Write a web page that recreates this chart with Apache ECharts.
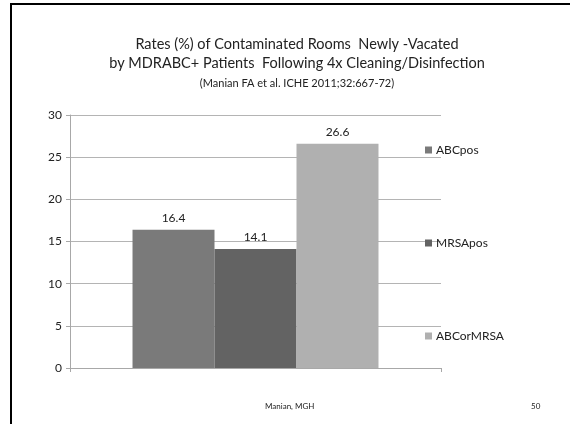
<!DOCTYPE html>
<html>
<head>
<meta charset="utf-8">
<script src="https://cdn.jsdelivr.net/npm/echarts@6/dist/echarts.min.js"></script>
<style>
  html, body { margin: 0; padding: 0; background: #fff; }
  #chart { width: 570px; height: 424px; }
</style>
</head>
<body>
<div id="chart"></div>
<script>
// Contamination rates after repeated cleaning, by organism group
const categories = ['Rooms'];
const seriesNames = ['ABCpos', 'MRSApos', 'ABCorMRSA'];
const seriesValues = [16.4, 14.1, 26.6];
const seriesColors = ['#7a7a7a', '#636363', '#b0b0b0'];
const yTicks = [0, 5, 10, 15, 20, 25, 30];

const FONT = 'Lato, "Open Sans", sans-serif';

const chart = echarts.init(document.getElementById('chart'), null, { renderer: 'canvas' });

const series = seriesNames.map((name, i) => ({
  name: name,
  type: 'bar',
  data: [seriesValues[i]],
  barGap: '0%',
  barCategoryGap: '33.7%',
  itemStyle: { color: seriesColors[i] },
  label: {
    show: true,
    position: 'top',
    distance: 6,
    color: '#222',
    fontSize: 12,
    fontFamily: FONT
  }
}));

chart.setOption({
  animation: false,
  backgroundColor: '#fff',
  title: [
    {
      text: 'Rates (%) of Contaminated Rooms  Newly -Vacated\nby MDRABC+ Patients  Following 4x Cleaning/Disinfection',
      left: 292, top: 30, textAlign: 'center',
      textStyle: { fontFamily: FONT, fontSize: 14.5, fontWeight: 'normal', color: '#222', lineHeight: 19 }
    },
    {
      text: '(Manian FA et al. ICHE 2011;32:667-72)',
      left: 292, top: 73, textAlign: 'center',
      textStyle: { fontFamily: FONT, fontSize: 11, fontWeight: 'normal', color: '#222' }
    }
  ],
  legend: {
    orient: 'vertical',
    left: 420, top: 139,
    itemWidth: 7, itemHeight: 7,
    itemGap: 81,
    icon: 'rect',
    textStyle: { fontFamily: FONT, fontSize: 12, color: '#222', padding: [0, 0, 0, -1] },
    data: seriesNames
  },
  grid: { left: 70, right: 129, top: 115, bottom: 56, containLabel: false },
  xAxis: {
    type: 'category',
    data: categories,
    axisLine: { show: true, lineStyle: { color: '#a8a8a8', width: 1 } },
    axisTick: { show: true, length: 4, lineStyle: { color: '#a8a8a8' } },
    axisLabel: { show: false }
  },
  yAxis: {
    type: 'value',
    min: yTicks[0], max: yTicks[yTicks.length - 1], interval: 5,
    axisLine: { show: true, lineStyle: { color: '#a8a8a8' } },
    axisTick: { show: true, length: 4, lineStyle: { color: '#a8a8a8' } },
    axisLabel: { fontFamily: FONT, fontSize: 12, color: '#222', margin: 8 },
    splitLine: { show: true, lineStyle: { color: '#b4b4b4', width: 1 } }
  },
  graphic: [
    {
      type: 'rect',
      shape: { x: 11, y: 4, width: 620, height: 500 },
      style: { fill: 'none', stroke: '#000', lineWidth: 2 },
      silent: true
    },
    {
      type: 'text', left: 265, top: 402,
      style: { text: 'Manian, MGH', fontFamily: FONT, fontSize: 8, fill: '#222' }
    },
    {
      type: 'text', left: 531, top: 402,
      style: { text: '50', fontFamily: FONT, fontSize: 8, fill: '#222' }
    }
  ],
  series: series
});
</script>
</body>
</html>
